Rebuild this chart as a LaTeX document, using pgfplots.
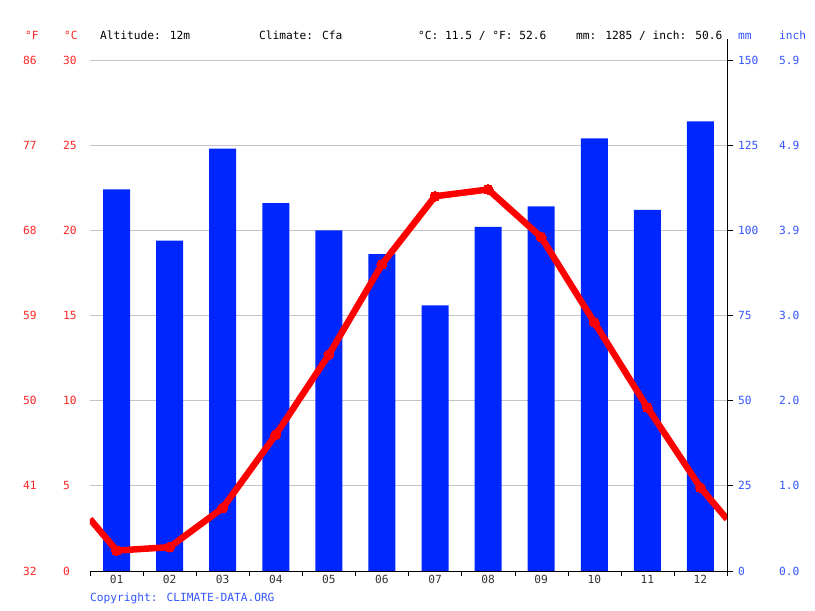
\documentclass[border=0pt]{standalone}
\usepackage{fontspec}
\setmainfont{DejaVu Sans Mono}
\usepackage{pgfplots}
\pgfplotsset{compat=1.18}
\definecolor{barblue}{HTML}{0026FF}
\definecolor{lblred}{HTML}{FF2424}
\definecolor{lblblue}{HTML}{3355FF}
\definecolor{gridgray}{HTML}{C4C4C4}
\definecolor{txtgray}{HTML}{333333}
\newcommand{\lblfont}{\fontsize{11.2pt}{13pt}\selectfont}
\begin{document}
\lblfont
\begin{tikzpicture}[x=1pt,y=1pt]
\path[use as bounding box] (0pt,0pt) rectangle (815pt,611pt);
% precipitation (mm), right scale
\begin{axis}[
    name=prec,
    at={(90pt,40pt)}, anchor=south west,
    width=637pt, height=511pt, scale only axis,
    xmin=0.5, xmax=12.5, ymin=0, ymax=150,
    axis x line=none,
    axis y line*=right,
    y axis line style={black},
    ytick={0,25,50,75,100,125,150},
    yticklabels={\makebox[41pt][l]{0}0.0,\makebox[41pt][l]{25}1.0,\makebox[41pt][l]{50}2.0,
                 \makebox[41pt][l]{75}3.0,\makebox[41pt][l]{100}3.9,\makebox[41pt][l]{125}4.9,
                 \makebox[41pt][l]{150}5.9},
    yticklabel style={anchor=west, inner sep=0pt, xshift=5pt, text=lblblue, font=\lblfont},
    tick align=outside, major tick length=6pt,
    ytick style={black, line width=0.8pt},
    ymajorgrids, grid style={gridgray, line width=0.8pt},
    /pgf/number format/assume math mode=true,
]
\addplot[ybar, bar width=27pt, fill=barblue, draw=none] coordinates {
    (1,112)(2,97)(3,124)(4,108)(5,100)(6,93)
    (7,78)(8,101)(9,107)(10,127)(11,106)(12,132)
};
\end{axis}
\draw[black] (prec.north east) -- ++(0pt,21pt);
\draw[black] (prec.south east) -- ++(0pt,-5pt);
% temperature (C), left scale
\begin{axis}[
    at={(90pt,40pt)}, anchor=south west,
    width=637pt, height=511pt, scale only axis,
    xmin=0.5, xmax=12.5, ymin=0, ymax=30,
    axis x line*=bottom,
    axis y line*=left,
    y axis line style={draw=none},
    x axis line style={black, -},
    xtick={1,...,12},
    xticklabels={01,02,03,04,05,06,07,08,09,10,11,12},
    xticklabel style={text=txtgray, font=\lblfont},
    minor xtick={0.5,1.5,...,12.5},
    tick align=outside,
    major tick length=0pt, minor tick length=5pt,
    minor tick style={black},
    ytick={0,5,10,15,20,25,30},
    yticklabels={\makebox[40pt][l]{32}0,\makebox[40pt][l]{41}5,\makebox[40pt][l]{50}10,
                 \makebox[40pt][l]{59}15,\makebox[40pt][l]{68}20,\makebox[40pt][l]{77}25,
                 \makebox[40pt][l]{86}30},
    yticklabel style={anchor=west, inner sep=0pt, xshift=-67pt, text=lblred, font=\lblfont},
    ytick style={draw=none},
    /pgf/number format/assume math mode=true,
]
\addplot[red, line width=6.5pt, line join=round, mark=*, mark size=5pt,
    mark options={fill=red, draw=red, line width=0pt}, mark indices={2,...,13}] coordinates {
    (0.5,3.05)(1,1.2)(2,1.4)(3,3.7)(4,8.0)(5,12.7)(6,18.0)
    (7,22.0)(8,22.4)(9,19.6)(10,14.6)(11,9.6)(12,4.9)(12.5,3.05)
};
\end{axis}
\node[anchor=base west, inner sep=0pt, text=lblred] at (25pt,571.5pt) {°F};
\node[anchor=base west, inner sep=0pt, text=lblred] at (64pt,571.5pt) {°C};
\node[anchor=base west, inner sep=0pt] at (100pt,571.5pt) {Altitude: 12m};
\node[anchor=base west, inner sep=0pt] at (259pt,571.5pt) {Climate: Cfa};
\node[anchor=base west, inner sep=0pt] at (418pt,571.5pt) {°C: 11.5 / °F: 52.6};
\node[anchor=base west, inner sep=0pt] at (576pt,571.5pt) {mm: 1285 / inch: 50.6};
\node[anchor=base west, inner sep=0pt, text=lblblue] at (738pt,571.5pt) {mm};
\node[anchor=base west, inner sep=0pt, text=lblblue] at (779pt,571.5pt) {inch};
\node[anchor=base west, inner sep=0pt, text=lblblue] at (90pt,9pt) {Copyright: CLIMATE-DATA.ORG};
\end{tikzpicture}
\end{document}
